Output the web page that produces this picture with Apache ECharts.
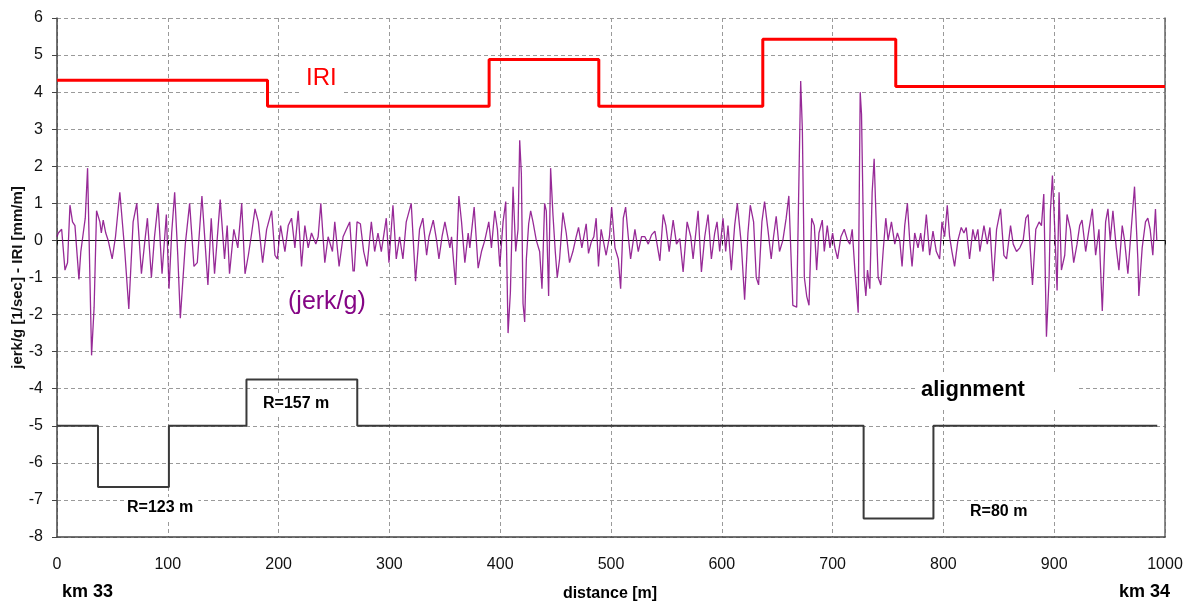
<!DOCTYPE html>
<html>
<head>
<meta charset="utf-8">
<script src="https://cdn.jsdelivr.net/npm/echarts@6/dist/echarts.min.js"></script>
<style>
  html, body { margin: 0; padding: 0; background: #fff; }
  #chart { width: 1191px; height: 603px; }
</style>
</head>
<body>
<div id="chart"></div>
<script>
// IRI step levels (start distance of each section, value)
var iriDist = [0, 190, 390, 489, 637, 757, 1000];
var iriVal = [4.32, 3.62, 4.88, 3.62, 5.43, 4.15, 4.15];

// alignment (curvature) steps
var alignDist = [0, 37, 101, 171, 271, 728, 791, 993];
var alignVal = [-5, -6.65, -5, -3.75, -5, -7.5, -5, -5];

// jerk/g
var jerkDist = [0, 1.2, 4.2, 7.2, 9.5, 11.7, 14, 16.2, 19.8, 21.5, 23.7, 25.5, 27.6, 29.1, 31.2, 33.5, 35.7, 38.7, 40, 41.7, 44, 46.2, 49.8, 52.8, 56.7, 61.2, 64.8, 68.7, 72, 76.2, 79, 81.6, 85.2, 88, 91.2, 94.8, 98.7, 101.1, 103.5, 106.2, 109, 111.3, 115.8, 119.7, 123.6, 126.6, 130.8, 136.2, 139.2, 142.2, 147.3, 151.2, 153.6, 155.7, 159.6, 163.2,
  166.7, 169.7, 172.7, 175.7, 178.7, 181.7, 185.6, 189.2, 193.7, 196.7, 198.8, 201.8, 205.7, 208.7, 211.7, 214.7, 217.7, 220.7, 223.7, 226.7, 229.7, 233.6, 235.7, 238.1, 241.7, 244.7, 248.6, 250.7, 254.6, 258.2, 261.2, 264.2, 267.8, 270.8, 273.8, 276.8, 279.8, 283.7, 286.7, 289.7, 292.7, 297.2, 299.6, 303.2, 306.2, 309.2, 312.2, 315.2, 319.7, 323.6, 327.2, 330.2,
  333.6, 335.7, 339.6, 342.6, 344.7, 347.5, 350.1, 354.6, 356.1, 359.7, 362.7, 365.1, 368.1, 371.1, 372.6, 376.5, 380.1, 383.1, 386.1, 389.7, 392.1, 395.1, 397.5, 399.6, 402.6, 405, 407.1, 409.2, 411.6, 414, 416.1, 417.6, 419.1, 420.6, 422.1, 423.6, 425.7, 427.5, 429.6, 432.6, 435.6, 437.7, 440.1, 441.6, 443.7, 445.5, 447.6, 449.7, 451.5, 453.6, 456.6, 459.6, 462.6, 465.6, 468.6, 470.7, 473.7, 477.6, 479.7, 482.1, 484.5, 486.6, 488.7, 491.1, 495.6, 498.6,
  500.6, 503.6, 506.6, 508.7, 511.1, 513.2, 515.6, 517.7, 521.6, 524.6, 527.6, 530.6, 533.6, 536.6, 539.6, 544.1, 547.1, 549.5, 552.5, 556.1, 559.1, 562.1, 565.1, 568.7, 572, 574.1, 578.6, 581.6, 584.6, 587.6, 590.6, 593.6, 595.7, 598.1, 601.1, 603.5, 605.6, 608.6, 611.6, 614, 617.6, 620.6, 623.6, 625.7, 628.7, 631.1, 633.2, 636.2, 638.6, 641.6, 644.6, 646.7, 649.1, 652.1, 655.1, 658.1, 660.5, 664.1,
  667.6, 669.7, 671.2, 672.7, 674.5, 676.6, 678.7, 681.1, 683.5, 685.6, 687.7, 690.7, 692.5, 695.2, 697.6, 700, 702.1, 704.5, 707.5, 710.5, 713.5, 715.6, 717.7, 720.1, 721.6, 723.1, 724.9, 726.1, 728.5, 730, 731.5, 733.6, 735.7, 737.5, 739, 741.1, 743.5, 745.6, 748, 750.1, 753.1, 756.1, 758.5, 760.6, 762.7, 765.1, 767.5, 769.6, 771.7, 774.1, 777.1, 779.5, 781.6, 784.6, 787.6, 790.6, 793.6, 796.6, 798.7, 801.1, 803.5, 805.6, 807.7, 810.1, 813.1, 816.1, 818.5, 820.6, 823.6, 826.6, 828.7, 831.1, 832.9,
  836.6, 839.6, 842, 845, 848, 851.6, 854.6, 857, 860.6, 863, 866, 869, 872, 874.4, 876.5, 880.4, 883.4, 886.4, 888.5, 890.6, 893, 895.4, 896.6, 898.4, 900.5, 902.6, 904.4, 906.5, 909.5, 911.6, 914.6, 917.6, 920.6, 923, 925.1, 928.4, 931.4, 934.4, 937.4, 940.4, 943.4, 946.4, 948.5, 950.6, 953, 956, 958.4, 961.4, 963.5, 966.5, 969.5, 972.5, 975.5, 976.4, 979.4, 982.4, 984.5, 986.6, 989, 991.4, 992.6];
var jerkVal = [0.1, 0.2, 0.3, -0.8, -0.6, 0.95, 0.5, 0.4, -1.05, -0.3, 0.2, 0.6, 1.95, 1.9, -3.1, -1.8, 0.8, 0.5, 0.2, 0.55, 0.2, 0, -0.5, 0.1, 1.3, -0.3, -1.85, 0.5, 1.0, -0.9, -0.1, 0.6, -1.0, 0.1, 1.0, -0.9, 0.7, -1.3, 0.2, 1.3, -0.4, -2.1, -0.1, 1.0, -0.7, -0.6, 1.2, -1.2, 0.6, -0.9, 1.1, -0.5, 0.4, -0.9, 0.3, -0.2,
  1.0, -0.9, -0.4, 0.2, 0.85, 0.5, -0.6, 0.3, 0.8, -0.4, -0.5, 0.4, -0.3, 0.4, 0.6, -0.2, 0.8, -0.7, 0.4, -0.2, 0.2, -0.1, 0.1, 1.0, -0.6, 0.1, -0.3, 0.5, -0.7, 0.1, 0.3, 0.5, -1.1, 0.5, 0.45, -0.3, -0.7, 0.5, -0.3, 0.2, -0.3, 0.6, -0.6, 0.95, -0.5, 0.1, -0.5, 0.5, 1.0, -1.1, 0.3, 0.6,
  -0.4, 0.1, 0.55, 0, -0.5, 0.1, 0.5, -0.2, 0.1, -1.2, 1.2, 0.5, -0.6, 0.2, -0.2, 0.9, -0.75, -0.3, 0.0, 0.5, -0.2, 0.8, 0.3, -0.7, 0.5, 1.05, -2.5, -1.4, 1.45, -0.3, 0.3, 2.7, 1.8, -1.7, -2.2, -0.5, 0.45, 0.8, 0.5, 0, -0.3, -1.3, 1.0, 0.8, -1.5, 1.95, 0.7, -0.3, -1.0, -0.5, 0.75, 0.2, -0.6, -0.3, 0.1, 0.35, -0.2, 0.45, -0.35, -0.05, 0.1, 0.6, -0.7, 0.3, -0.4, 0.1,
  0.9, -0.2, -0.5, -1.3, 0.6, 0.9, 0.1, -0.5, 0.3, -0.3, 0.1, 0.1, -0.1, 0.15, 0.25, -0.55, 0.7, 0.4, -0.3, 0.55, -0.1, 0.05, -0.85, 0.5, 0.1, -0.5, 0.8, -0.85, 0.1, 0.7, -0.5, 0.2, 0.5, -0.3, 0.6, -0.3, 0.4, -0.8, 0.4, 1.0, -0.1, -1.6, 0.2, 0.95, 0.5, -1.0, -1.2, 0.5, 1.05, 0.3, -0.5, 0.1, 0.65, -0.3, 0.0, 0.6, 1.2, -1.75,
  -1.8, 1.8, 4.3, 3.0, -1.0, -1.5, -1.75, 0.6, 0.4, -0.8, 0.2, 0.55, -0.3, 0.4, -0.2, 0.2, -0.2, -0.5, 0.1, 0.3, 0.0, -0.1, 0.3, -0.8, -1.35, -1.95, 4.0, 3.4, -1.0, -1.5, -0.8, -1.3, 1.3, 2.2, 0.8, -1.0, -1.2, -0.3, 0.6, 0.0, 0.5, -0.1, 0.2, 0.0, -0.7, 0.4, 1.0, 0.0, -0.7, 0.2, -0.2, 0.2, -0.3, 0.7, -0.4, 0.25, -0.3, -0.5, 0.5, 0.1, 0.95, 0.1, -0.3, -0.7, 0.0, 0.35, 0.2, 0.35, -0.5, 0.3, 0.0, 0.3, -0.3,
  0.4, -0.1, 0.35, -1.1, 0.3, 0.85, -0.4, -0.5, 0.4, -0.1, -0.3, -0.2, 0.0, 0.6, 0.7, -1.2, 0.3, 0.5, 0.4, 1.25, -2.6, -1.0, 0.8, 1.75, 0.3, -1.35, 1.3, -0.8, -0.4, 0.7, 0.3, -0.6, -0.1, 0.4, 0.55, -0.3, 0.3, 0.85, -0.4, 0.3, -1.9, 0.5, 0.85, 0.0, 0.8, -0.2, -0.8, 0.4, 0.0, -0.9, 0.3, 1.45, -0.5, -1.5, -0.2, 0.5, 0.6, 0.3, -0.4, 0.85, 0.0];

var xTicks = { min: 0, max: 1000, interval: 100 };
var yTicks = { min: -8, max: 6, interval: 1 };

function pairs(xs, ys) {
  return xs.map(function (x, i) { return [x, ys[i]]; });
}

var FONT = '"Liberation Sans", Arial, sans-serif';
var myChart = echarts.init(document.getElementById('chart'), null, { renderer: 'canvas' });

// white text boxes, like the chart's text frames that hide the grid behind them
function note(text, x, y, font, color, pad) {
  return {
    type: 'text', z: 100,
    style: {
      text: text, x: x, y: y, textVerticalAlign: 'middle',
      font: font, fill: color, backgroundColor: '#fff', padding: pad
    }
  };
}

var option = {
  backgroundColor: '#fff',
  animation: false,
  grid: { left: 57, right: 26, top: 18, bottom: 66, containLabel: false, outerBoundsMode: 'none' },
  xAxis: [
    {
      type: 'value', position: 'bottom',
      min: xTicks.min, max: xTicks.max, interval: xTicks.interval,
      axisLine: { show: true, onZero: false, lineStyle: { color: '#444', width: 1.5 } },
      axisTick: { show: false },
      axisLabel: { margin: 20, color: '#111', fontSize: 16, fontFamily: FONT, formatter: function (v) { return String(v); } },
      splitLine: { show: true, lineStyle: { color: '#9a9a9a', type: [4, 3], width: 1 } }
    },
    {
      // zero line with small ticks, like the crossing axis of the original
      type: 'value', position: 'top',
      min: xTicks.min, max: xTicks.max, interval: xTicks.interval,
      axisLine: { show: true, onZero: true, onZeroAxisIndex: 0, lineStyle: { color: '#111', width: 1.2 } },
      axisTick: { show: true, inside: true, length: 4, lineStyle: { color: '#111' } },
      axisLabel: { show: false },
      splitLine: { show: false }
    }
  ],
  yAxis: [
    {
      type: 'value',
      min: yTicks.min, max: yTicks.max, interval: yTicks.interval,
      name: 'jerk/g [1/sec] - IRI [mm/m]',
      nameLocation: 'middle', nameGap: 32, nameRotate: 90, nameMoveOverlap: false,
      nameTextStyle: { fontSize: 15, fontWeight: 'bold', color: '#111', fontFamily: FONT },
      axisLine: { show: true, onZero: false, lineStyle: { color: '#444', width: 1.5 } },
      axisTick: { show: true, length: 5, lineStyle: { color: '#444' } },
      axisLabel: { margin: 14, color: '#111', fontSize: 16, fontFamily: FONT },
      splitLine: { show: true, lineStyle: { color: '#9a9a9a', type: [4, 3], width: 1 } }
    },
    {
      // right border of the plot area
      type: 'value', position: 'right',
      min: yTicks.min, max: yTicks.max, interval: yTicks.interval,
      axisLine: { show: true, onZero: false, lineStyle: { color: '#666', width: 1.5 } },
      axisTick: { show: false },
      axisLabel: { show: false },
      splitLine: { show: false }
    }
  ],
  series: [
    {
      name: 'jerk/g', type: 'line',
      data: pairs(jerkDist, jerkVal),
      showSymbol: false,
      lineStyle: { color: '#850585', width: 1.3, opacity: 0.85 },
      z: 2
    },
    {
      name: 'IRI', type: 'line', step: 'end',
      data: pairs(iriDist, iriVal),
      showSymbol: false,
      lineStyle: { color: '#ff0000', width: 3 },
      z: 3
    },
    {
      name: 'alignment', type: 'line', step: 'end',
      data: pairs(alignDist, alignVal),
      showSymbol: false,
      lineStyle: { color: '#3a3a3a', width: 2 },
      z: 3
    }
  ],
  graphic: [
    note('IRI', 300, 78, '24px ' + FONT, '#ff0000', [4, 6, 4, 6]),
    note('(jerk/g)', 284, 302, '25px ' + FONT, '#850585', [6, 14, 30, 4]),
    note('alignment', 917, 390, 'bold 22px ' + FONT, '#000', [6, 52, 6, 4]),
    note('R=157 m', 261, 404, 'bold 16px ' + FONT, '#000', [3, 4, 3, 2]),
    note('R=123 m', 124, 508, 'bold 16px ' + FONT, '#000', [3, 5, 3, 3]),
    note('R=80 m', 966, 512, 'bold 16px ' + FONT, '#000', [3, 24, 3, 4]),
    { type: 'text', style: { text: 'km 33', x: 62, y: 592, textVerticalAlign: 'middle', font: 'bold 18px ' + FONT, fill: '#000' } },
    { type: 'text', style: { text: 'km 34', x: 1119, y: 592, textVerticalAlign: 'middle', font: 'bold 18px ' + FONT, fill: '#000' } },
    { type: 'text', style: { text: 'distance [m]', x: 610, y: 594, textAlign: 'center', textVerticalAlign: 'middle', font: 'bold 16px ' + FONT, fill: '#000' } }
  ]
};

option && myChart.setOption(option);
</script>
</body>
</html>
